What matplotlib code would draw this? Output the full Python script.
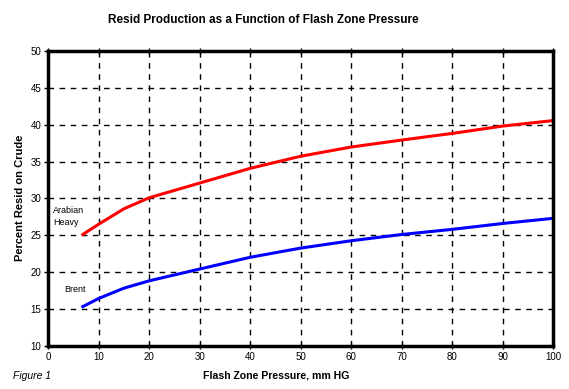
import matplotlib
matplotlib.use("Agg")
import matplotlib.pyplot as plt

pressure_ah = [6.6, 10, 15, 20, 30, 40, 50, 60, 70, 80, 90, 100]
arabian_heavy = [25.0, 26.5, 28.6, 30.1, 32.1, 34.1, 35.75, 37.0, 37.95, 38.85, 39.85, 40.6]
pressure_br = [6.6, 10, 15, 20, 30, 40, 50, 60, 70, 80, 90, 100]
brent = [15.2, 16.4, 17.8, 18.8, 20.4, 22.0, 23.25, 24.25, 25.1, 25.8, 26.6, 27.3]
xticks = [0, 10, 20, 30, 40, 50, 60, 70, 80, 90, 100]
yticks = [10, 15, 20, 25, 30, 35, 40, 45, 50]

plt.rcParams['font.family'] = ['Liberation Sans', 'DejaVu Sans']

W, H = 569, 389
fig = plt.figure(figsize=(W / 100, H / 100), dpi=100)
left, right, top, bottom = 48.2, 553, 51.5, 345.5
ax = fig.add_axes([left / W, 1 - bottom / H, (right - left) / W, (bottom - top) / H])

ax.plot(pressure_ah, arabian_heavy, color='#ff0000', lw=2.2, solid_capstyle='butt')
ax.plot(pressure_br, brent, color='#0000ff', lw=2.2, solid_capstyle='butt')

ax.set_xlim(0, 100)
ax.set_ylim(10, 50)
ax.set_xticks(xticks)
ax.set_yticks(yticks)
ax.tick_params(axis='x', labelsize=7, length=4, width=1, direction='inout', top=True, pad=3)
ax.tick_params(axis='y', labelsize=7, length=3, width=1, direction='out', pad=2)
ax.grid(True, color='black', ls=(0, (4, 4)), lw=1)
for s in ax.spines.values():
    s.set_linewidth(2.5)

fig.text(263 / W, 1 - 20 / H, 'Resid Production as a Function of Flash Zone Pressure',
         ha='center', va='center', fontsize=8.5, fontweight='bold')
fig.text(276 / W, 1 - 376 / H, 'Flash Zone Pressure, mm HG',
         ha='center', va='center', fontsize=7.6, fontweight='bold')
fig.text(20 / W, 1 - 198 / H, 'Percent Resid on Crude',
         ha='center', va='center', rotation=90, fontsize=8.0, fontweight='bold')
fig.text(13 / W, 1 - 376 / H, 'Figure 1', ha='left', va='center', fontsize=7.5, style='italic')

ax.text(1.0, 28.3, 'Arabian', fontsize=6.5, ha='left', va='center')
ax.text(1.0, 26.8, 'Heavy', fontsize=6.5, ha='left', va='center')
ax.text(3.1, 17.6, 'Brent', fontsize=6.5, ha='left', va='center')

fig.savefig('out.png', dpi=100)
